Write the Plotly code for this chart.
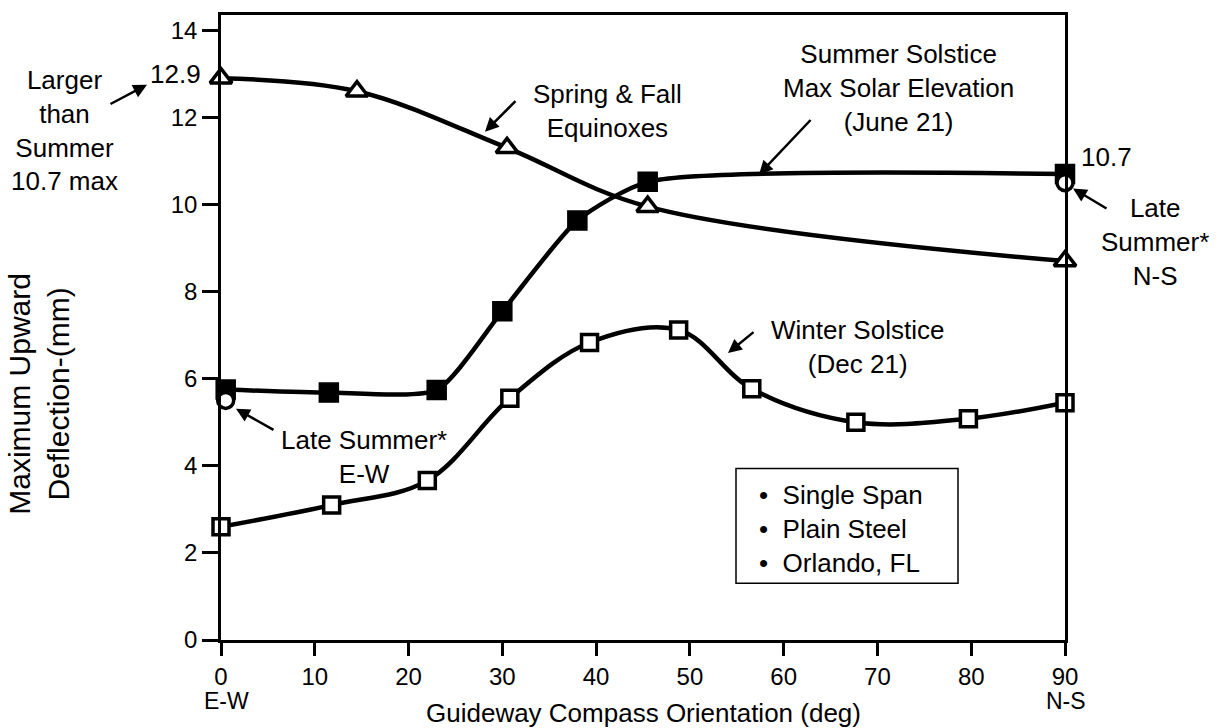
import plotly.graph_objects as go

# Guideway orientation (deg) and maximum upward deflection (mm) for each season
equinox_deg = [0, 14.5, 30.5, 45.5, 90]
equinox_mm = [12.9, 12.6, 11.3, 9.95, 8.7]

summer_deg = [0.5, 11.5, 23, 30, 38, 45.5, 90]
summer_mm = [5.75, 5.68, 5.74, 7.55, 9.63, 10.52, 10.7]

winter_deg = [0, 11.8, 22, 30.8, 39.3, 48.8, 56.6, 67.7, 79.7, 90]
winter_mm = [2.6, 3.1, 3.66, 5.55, 6.83, 7.12, 5.77, 5.0, 5.08, 5.45]

late_summer_deg = [0.5, 90]
late_summer_mm = [5.5, 10.5]

x_ticks = [0, 10, 20, 30, 40, 50, 60, 70, 80, 90]
y_ticks = [0, 2, 4, 6, 8, 10, 12, 14]

FONT = "Liberation Sans, Arial, Helvetica, sans-serif"
W, H = 1220, 728
L, R, T, B = 221, 155, 13, 88
PW, PH = W - L - R, H - T - B


def px(xp):
    return (xp - L) / PW


def py(yp):
    return (H - B - yp) / PH


fig = go.Figure()


def curve(smoothing):
    return dict(color="black", width=4.5, shape="spline", smoothing=smoothing)


fig.add_trace(go.Scatter(
    x=equinox_deg, y=equinox_mm, mode="lines+markers", line=curve(1.0),
    marker=dict(symbol="triangle-up", size=19, color="white",
                line=dict(color="black", width=3.5)),
    cliponaxis=False, showlegend=False))

fig.add_trace(go.Scatter(
    x=summer_deg, y=summer_mm, mode="lines+markers", line=curve(0.6),
    marker=dict(symbol="square", size=19, color="black",
                line=dict(color="black", width=1.5)),
    cliponaxis=False, showlegend=False))

fig.add_trace(go.Scatter(
    x=winter_deg, y=winter_mm, mode="lines+markers", line=curve(1.0),
    marker=dict(symbol="square", size=16, color="white",
                line=dict(color="black", width=3.5)),
    cliponaxis=False, showlegend=False))

fig.add_trace(go.Scatter(
    x=late_summer_deg, y=late_summer_mm, mode="markers",
    marker=dict(symbol="circle", size=16, color="white",
                line=dict(color="black", width=3.5)),
    cliponaxis=False, showlegend=False))

text_font = dict(family=FONT, size=26, color="black")
annotations = []


def label(text, xp, yp, xanchor="center", align="center", font=text_font):
    annotations.append(dict(
        text=text, x=px(xp), y=py(yp), xref="paper", yref="paper",
        xanchor=xanchor, yanchor="middle", align=align,
        showarrow=False, font=font))


def arrow(x0, y0, x1, y1):
    # tail at (x0, y0), head at (x1, y1), all in page pixels
    annotations.append(dict(
        text="", x=px(x1), y=py(y1), xref="paper", yref="paper",
        ax=x0 - x1, ay=y0 - y1, showarrow=True,
        arrowhead=2, arrowsize=1.1, arrowwidth=2.5, arrowcolor="black"))


label("Larger<br>than<br>Summer<br>10.7 max", 64, 129)
label("12.9", 203, 72, xanchor="right")
label("Spring &amp; Fall<br>Equinoxes", 607, 109)
label("Summer Solstice<br>Max Solar Elevation<br>(June 21)", 898, 86)
label("10.7", 1079, 155, xanchor="left")
label("Late<br>Summer*<br>N-S", 1155, 241)
label("Late Summer*<br>E-W", 364, 456)
label("Winter Solstice<br>(Dec 21)", 857, 346)
label("\u2022  Single Span<br>\u2022  Plain Steel<br>\u2022  Orlando, FL",
      757, 529, xanchor="left", align="left")

# direction labels under the end ticks
tick_font = dict(family=FONT, size=24, color="black")
label("E-W", 226, 701, font=dict(family=FONT, size=23, color="black"))
label("N-S", 1066, 701, font=dict(family=FONT, size=23, color="black"))

arrow(109, 103, 147, 83)
arrow(517, 98, 485, 130)
arrow(812, 117, 759, 173)
arrow(1108, 208, 1073, 187)
arrow(275, 430, 236, 408)
arrow(755, 330, 728, 352)

# axis titles
label("Guideway Compass Orientation (deg)", 643, 713)
annotations.append(dict(
    text="Maximum Upward<br>Deflection-(mm)", x=px(39), y=py(393),
    xref="paper", yref="paper", xanchor="center", yanchor="middle",
    textangle=-90, showarrow=False,
    font=dict(family=FONT, size=30, color="black")))

fig.update_layout(
    width=W, height=H,
    margin=dict(l=L, r=R, t=T, b=B, pad=0),
    paper_bgcolor="white", plot_bgcolor="white",
    annotations=annotations,
    shapes=[dict(type="rect", xref="paper", yref="paper",
                 x0=px(736), x1=px(958), y0=py(583), y1=py(468),
                 line=dict(color="black", width=1.5))],
    xaxis=dict(range=[0, 90], tickvals=x_ticks,
               ticks="outside", ticklen=13, tickwidth=2.5, tickcolor="black",
               showline=True, linewidth=2.5, linecolor="black", mirror=True,
               showgrid=False, zeroline=False, tickfont=tick_font),
    yaxis=dict(range=[0, 14.35], tickvals=y_ticks,
               ticks="outside", ticklen=16, tickwidth=2.5, tickcolor="black",
               showline=True, linewidth=2.5, linecolor="black", mirror=True,
               showgrid=False, zeroline=False, tickfont=tick_font),
)

fig.write_html("out.html")
